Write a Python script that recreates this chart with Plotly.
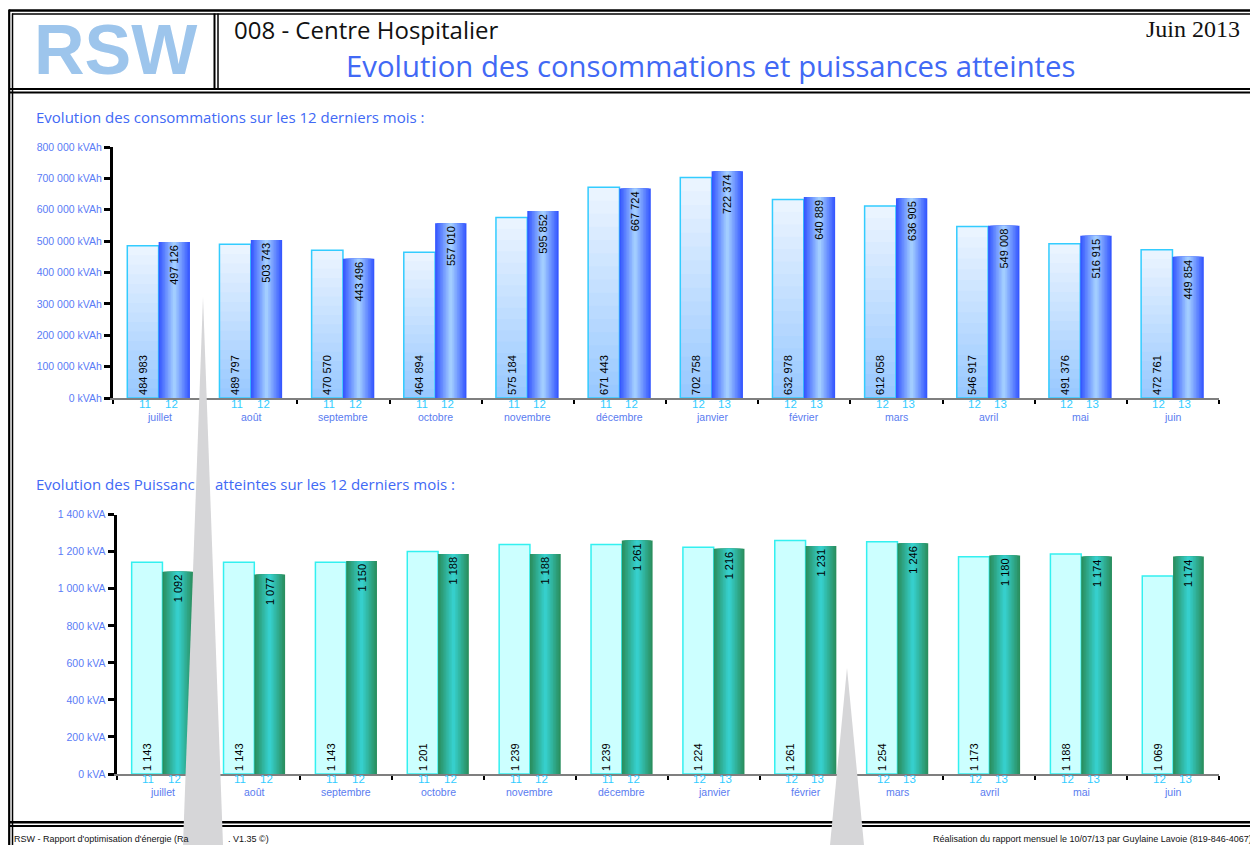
import plotly.graph_objects as go

# The page body keeps the browser's default 8px margin, so the figure is
# placed at (8, 8) in the 1258x845 window; everything below is laid out in
# window pixels and converted to paper coordinates.
WIN_W, WIN_H = 1258, 845
OFF = 8
W, H = WIN_W - OFF, WIN_H - OFF

# ---------------- data ----------------
months = ["juillet", "août", "septembre", "octobre", "novembre", "décembre",
          "janvier", "février", "mars", "avril", "mai", "juin"]
year_prev = ["11", "11", "11", "11", "11", "11", "12", "12", "12", "12", "12", "12"]
year_curr = ["12", "12", "12", "12", "12", "12", "13", "13", "13", "13", "13", "13"]

cons_prev = [484983, 489797, 470570, 464894, 575184, 671443,
             702758, 632978, 612058, 546917, 491376, 472761]
cons_curr = [497126, 503743, 443496, 557010, 595852, 667724,
             722374, 640889, 636905, 549008, 516915, 449854]

puis_prev = [1143, 1143, 1143, 1201, 1239, 1239, 1224, 1261, 1254, 1173, 1188, 1069]
puis_curr = [1092, 1077, 1150, 1188, 1188, 1261, 1216, 1231, 1246, 1180, 1174, 1174]

cons_tickvals = [0, 100000, 200000, 300000, 400000, 500000, 600000, 700000, 800000]
cons_ticktext = ["0 kVAh", "100 000 kVAh", "200 000 kVAh", "300 000 kVAh", "400 000 kVAh",
                 "500 000 kVAh", "600 000 kVAh", "700 000 kVAh", "800 000 kVAh"]
puis_tickvals = [0, 200, 400, 600, 800, 1000, 1200, 1400]
puis_ticktext = ["0 kVA", "200 kVA", "400 kVA", "600 kVA", "800 kVA",
                 "1 000 kVA", "1 200 kVA", "1 400 kVA"]

# ---------------- styles ----------------
ARIAL = "Liberation Sans, Arial, sans-serif"
SANS = "Open Sans, Noto Sans, sans-serif"
TICK_BLUE = "#5a7cf6"
TITLE_BLUE = "#4169f5"
YEAR_CYAN = "#33ccff"
MONTH_BLUE = "#5a7cf0"


def px(x):
    return (x - OFF) / W


def py(y):
    return 1 - (y - OFF) / H


def hex2rgb(h):
    h = h.lstrip("#")
    return tuple(int(h[i:i + 2], 16) for i in (0, 2, 4))


def mix(c1, c2, t):
    a, b = hex2rgb(c1), hex2rgb(c2)
    return "rgb(%d,%d,%d)" % tuple(round(a[i] + (b[i] - a[i]) * t) for i in range(3))


def fmt(v):
    return f"{v:,}".replace(",", " ")


fig = go.Figure()
xpos = list(range(len(months)))


def add_chart(xa, ya, prev, curr, light_top, light_bottom, light_line,
              dark_edge, dark_mid, off_l, off_d, bw, n_light):
    common = dict(x=xpos, xaxis=xa, yaxis=ya, hoverinfo="skip", showlegend=False)
    # previous-year bars: vertical gradient from nested bars
    for k in range(n_light):
        frac = (n_light - k) / n_light
        t = (n_light - k - 0.5) / n_light
        fig.add_trace(go.Bar(y=[v * frac for v in prev], offset=off_l, width=bw,
                             marker=dict(color=mix(light_bottom, light_top, t), line_width=0),
                             **common))
    fig.add_trace(go.Bar(y=prev, offset=off_l, width=bw,
                         marker=dict(color="rgba(0,0,0,0)", line=dict(color=light_line, width=1.5)),
                         text=[fmt(v) for v in prev], textposition="inside",
                         insidetextanchor="start", textangle=-90,
                         insidetextfont=dict(family=ARIAL, size=11, color="black"),
                         **common))
    # current-year bars: horizontal gradient from nested bars
    K = 10
    for j in range(K):
        w = bw * (K - j) / K
        fig.add_trace(go.Bar(y=curr, offset=off_d + (bw - w) / 2, width=w,
                             marker=dict(color=mix(dark_edge, dark_mid, j / (K - 1)), line_width=0),
                             **common))
    fig.add_trace(go.Bar(y=curr, offset=off_d, width=bw,
                         marker=dict(color="rgba(0,0,0,0)", line_width=0),
                         text=[fmt(v) for v in curr], textposition="inside",
                         insidetextanchor="end", textangle=-90,
                         insidetextfont=dict(family=ARIAL, size=11, color="black"),
                         **common))


add_chart("x", "y", cons_prev, cons_curr, "#edf5ff", "#97c8ff", "#33ccff",
          "#3658ff", "#a2cdff", -0.345, -0.005, 0.34, 16)
add_chart("x2", "y2", puis_prev, puis_curr, "#ccffff", "#ccffff", "#33f0f0",
          "#2a8f5f", "#36cfcc", -0.335, 0.0, 0.335, 1)

xaxis_common = dict(range=[-0.5, 11.5], showline=True, linecolor="#7f7f7f", linewidth=2,
                    ticks="outside", tickvals=[i - 0.5 for i in range(13)], ticklen=4,
                    tickwidth=1.5, tickcolor="black", showticklabels=False,
                    showgrid=False, zeroline=False, fixedrange=True)
yaxis_common = dict(showline=True, linecolor="black", linewidth=3, ticks="outside",
                    ticklen=6, tickwidth=2.5, tickcolor="black",
                    tickfont=dict(family=ARIAL, size=10.5, color=TICK_BLUE),
                    showgrid=False, zeroline=False, fixedrange=True)

fig.update_layout(
    width=W, height=H, margin=dict(l=0, r=0, t=0, b=0, pad=0, autoexpand=False),
    paper_bgcolor="white", plot_bgcolor="rgba(0,0,0,0)",
    barmode="overlay", showlegend=False,
    xaxis=dict(domain=[px(113), px(1219)], anchor="y", **xaxis_common),
    yaxis=dict(domain=[py(398), py(147)], anchor="x", range=[0, 800000],
               tickvals=cons_tickvals, ticktext=cons_ticktext, **yaxis_common),
    xaxis2=dict(domain=[px(116.5), px(1219)], anchor="y2", **xaxis_common),
    yaxis2=dict(domain=[py(774), py(514.7)], anchor="x2", range=[0, 1400],
                tickvals=puis_tickvals, ticktext=puis_ticktext, **yaxis_common),
)

ann = []
for xa, ya, ys_year, ys_month in (("x", "y", -6, -19), ("x2", "y2", -5, -18)):
    for i, m in enumerate(months):
        for lab, sh in ((year_prev[i], -14), (year_curr[i], 12)):
            ann.append(dict(text=lab, x=i, xref=xa, y=0, yref=ya + " domain",
                            xanchor="center", yanchor="middle",
                            xshift=sh, yshift=ys_year, showarrow=False,
                            font=dict(family=ARIAL, size=11.5, color=YEAR_CYAN)))
        ann.append(dict(text=m, x=i, xref=xa, y=0, yref=ya + " domain",
                        xanchor="center", yanchor="middle",
                        yshift=ys_month, showarrow=False,
                        font=dict(family=ARIAL, size=10.5, color=MONTH_BLUE)))


def txt(text, x, y, xanchor, size, color, family=SANS, weight=None):
    f = dict(family=family, size=size, color=color)
    if weight:
        f["weight"] = weight
    ann.append(dict(text=text, x=px(x), y=py(y), xref="paper", yref="paper",
                    xanchor=xanchor, yanchor="middle", showarrow=False, font=f))


# header
txt("RSW", 115, 50, "center", 70, "#9dc5ec", ARIAL, "bold")
txt("008 - Centre Hospitalier", 232, 29, "left", 24, "#111111")
txt("Juin 2013", 1242, 29, "right", 24, "#111111", "Liberation Serif, Times New Roman, serif")
txt("Evolution des consommations et puissances atteintes", 710, 66, "center", 29.3, TITLE_BLUE)
# section titles
txt("Evolution des consommations sur les 12 derniers mois :", 34, 117.5, "left", 15, TITLE_BLUE)
txt("Evolution des Puissanc", 34, 483.5, "left", 15, TITLE_BLUE)
txt("atteintes sur les 12 derniers mois :", 213, 483.5, "left", 15, TITLE_BLUE)
# footer
txt("RSW - Rapport d'optimisation d'énergie (Ra", 12, 838.5, "left", 9, "#111111", ARIAL)
txt(". V1.35 ©)", 226, 838.5, "left", 9, "#111111", ARIAL)
txt("Réalisation du rapport mensuel le 10/07/13 par Guylaine Lavoie (819-846-4067)",
    1254, 838.5, "right", 9, "#111111", ARIAL)

shapes = []


def hline(y, x0, x1, w):
    shapes.append(dict(type="line", xref="paper", yref="paper", x0=px(x0), x1=px(x1),
                       y0=py(y), y1=py(y), line=dict(color="black", width=w), layer="above"))


def vline(x, y0, y1, w):
    shapes.append(dict(type="line", xref="paper", yref="paper", x0=px(x), x1=px(x),
                       y0=py(y0), y1=py(y1), line=dict(color="black", width=w), layer="above"))


# page frame (double rules)
hline(10.5, 9, WIN_W, 2.5)
hline(14, 12, WIN_W, 1.5)
vline(9.2, 9.5, WIN_H, 2.2)
vline(12.5, 13.5, WIN_H, 1.5)
hline(89, 9, WIN_W, 2)
hline(92.5, 9, WIN_W, 2)
vline(214.5, 13.5, 89, 2)
vline(218, 13.5, 89, 1.5)
hline(822.3, 9, WIN_W, 2.5)
hline(826, 9, WIN_W, 2)


def spike(tx, ty, bx0, bx1):
    path = "M %.5f %.5f L %.5f %.5f L %.5f %.5f Z" % (
        px(tx), py(ty), px(bx0), py(WIN_H), px(bx1), py(WIN_H))
    shapes.append(dict(type="path", xref="paper", yref="paper", path=path,
                       fillcolor="#d6d6d8", line=dict(width=0), layer="above"))


spike(203, 297, 183, 223)
spike(847, 668, 830, 864)

fig.update_layout(annotations=ann, shapes=shapes)

fig.write_html("out.html", config={"displayModeBar": False})
